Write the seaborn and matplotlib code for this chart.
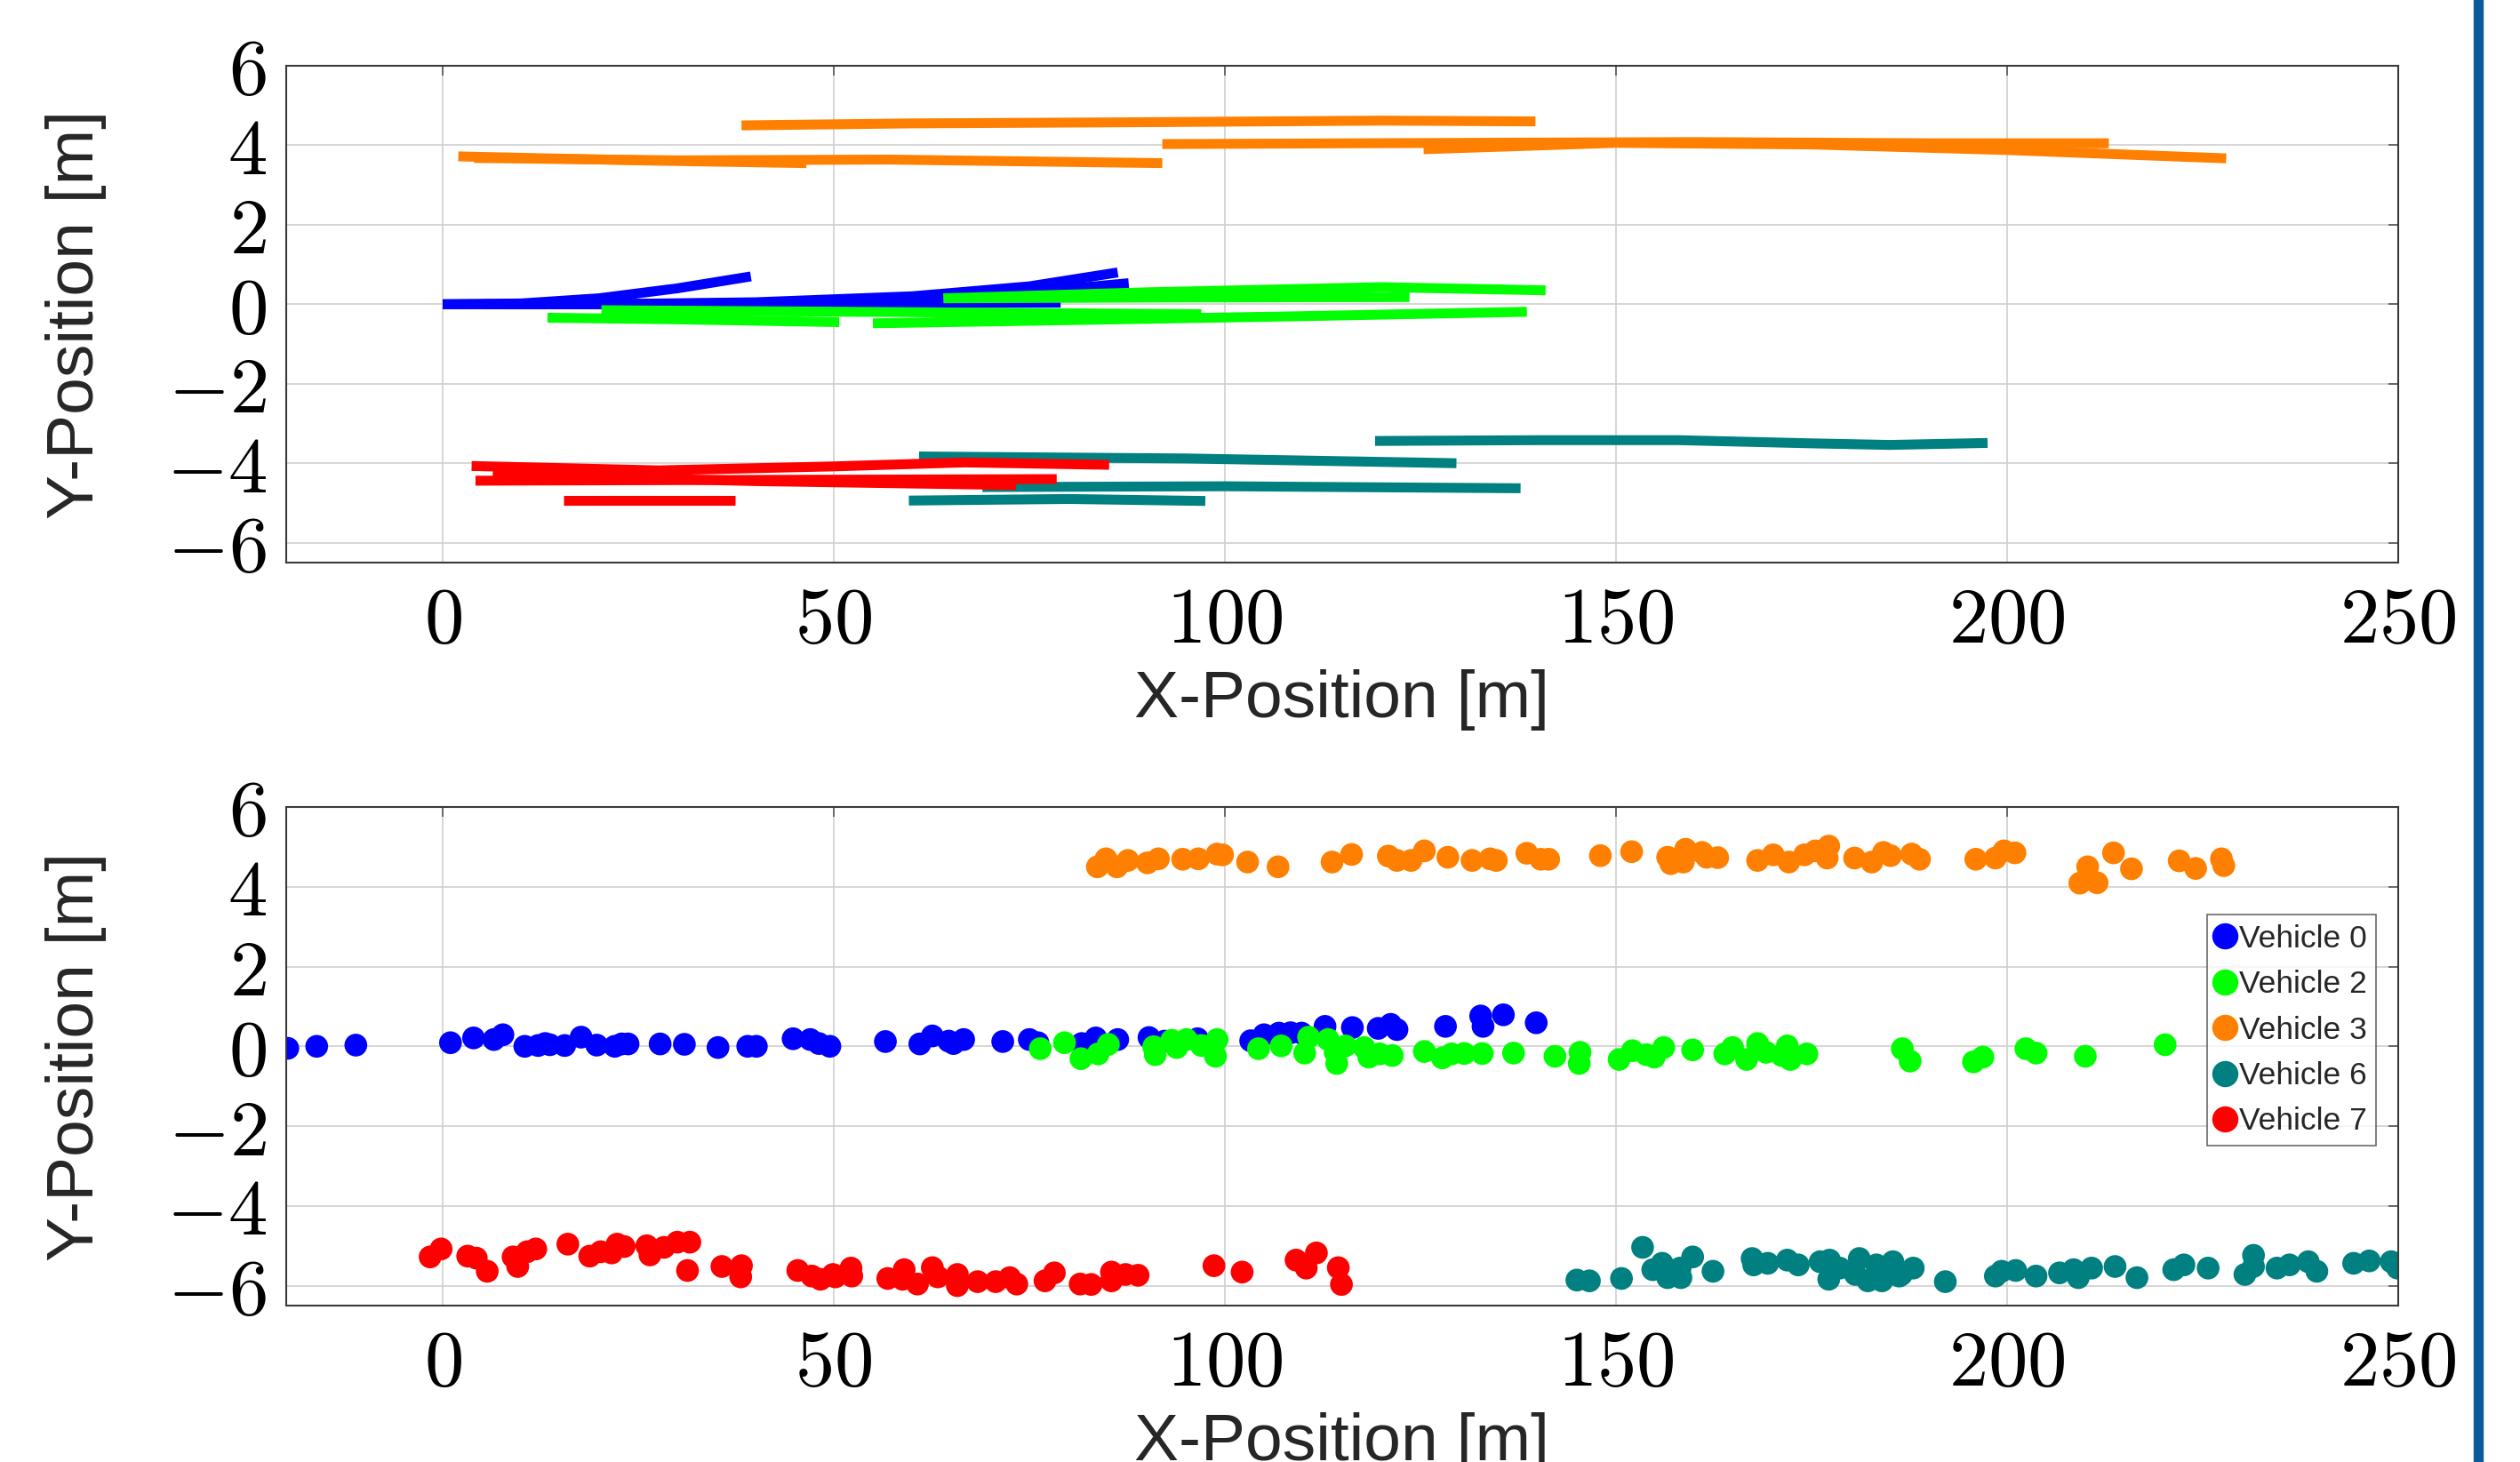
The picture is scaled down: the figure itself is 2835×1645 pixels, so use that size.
import pandas as pd
import numpy as np
import matplotlib
matplotlib.use("Agg")
import matplotlib.pyplot as plt
from matplotlib.ticker import FuncFormatter
from matplotlib.patches import Rectangle
import seaborn as sns

vehicles = ["Vehicle 0", "Vehicle 2", "Vehicle 3", "Vehicle 6", "Vehicle 7"]
colors = ["#0000FF", "#00FF00", "#FF8000", "#008080", "#FF0000"]

# top panel: tracked trajectories, one list per track
v0_track_x = [[0, 10, 20, 30, 39.4], [0, 20, 40, 60, 75, 86.3], [20, 40, 60, 75, 87.7], [5, 30, 55, 79]]
v0_track_y = [[0, 0.02, 0.15, 0.4, 0.7], [0, 0.0, 0.05, 0.2, 0.45, 0.8], [0, 0.03, 0.12, 0.3, 0.53], [0.0, 0.0, 0.02, 0.04]]
v2_track_x = [[13.4, 30, 50.7], [20.3, 60, 97], [55, 80, 110, 138.6], [64.4, 95, 123.6], [64, 90, 120, 141]]
v2_track_y = [[-0.34, -0.38, -0.45], [-0.15, -0.2, -0.25], [-0.48, -0.4, -0.3, -0.19], [0.15, 0.17, 0.18], [0.15, 0.3, 0.43, 0.35]]
v3_track_x = [[38.2, 60, 90, 120, 139.7], [2, 25, 46.5], [4, 30, 57, 92], [92, 130, 160, 190, 213], [125.4, 150, 175, 200, 228]]
v3_track_y = [[4.5, 4.55, 4.58, 4.62, 4.6], [3.72, 3.62, 3.55], [3.68, 3.62, 3.64, 3.55], [4.03, 4.06, 4.08, 4.05, 4.05], [3.9, 4.06, 4.02, 3.88, 3.67]]
v6_track_x = [[60.9, 95, 129.6], [119.2, 140, 158, 175, 185, 197.5], [69, 100, 137.8], [59.6, 80, 97.5]]
v6_track_y = [[-3.83, -3.88, -4.0], [-3.44, -3.42, -3.42, -3.5, -3.54, -3.49], [-4.6, -4.58, -4.63], [-4.94, -4.9, -4.95]]
v7_track_x = [[3.7, 27.6, 50, 66.7, 85.2], [4.2, 40, 78.5], [6.4, 40, 73.3], [15.5, 37.4]]
v7_track_y = [[-4.07, -4.18, -4.08, -3.98, -4.04], [-4.44, -4.42, -4.4], [-4.29, -4.45, -4.55], [-4.94, -4.94]]

# bottom panel: raw detections
v0_x = [-19.8, -16.1, -11.1, 1.0, 3.95, 6.55, 7.7, 10.5, 12.2, 13.1, 13.7, 15.6, 17.7, 19.7, 22.0, 22.9, 23.7,
        27.8, 30.9, 35.2, 39.0, 40.1, 44.8, 47.0, 48.1, 49.5, 56.6, 61.0, 62.6, 64.7, 65.3, 66.6, 71.6, 75.0,
        76.1, 81.7, 83.5, 86.3, 90.3, 92.3, 96.5, 103.3, 105.0, 106.9, 108.4, 109.8, 112.8, 116.3, 119.6,
        121.2, 122.0, 128.2, 132.7, 133.0, 135.6, 139.8]
v0_y = [-0.05, 0.0, 0.03, 0.09, 0.21, 0.17, 0.29, 0.0, 0.02, 0.07, 0.04, 0.02, 0.23, 0.03, 0.0, 0.06, 0.06,
        0.06, 0.05, -0.03, 0.0, 0.0, 0.19, 0.17, 0.07, 0.0, 0.12, 0.06, 0.26, 0.13, 0.07, 0.17, 0.12, 0.17,
        0.09, 0.07, 0.21, 0.17, 0.22, 0.13, 0.19, 0.14, 0.29, 0.33, 0.34, 0.33, 0.5, 0.47, 0.45,
        0.55, 0.42, 0.5, 0.76, 0.5, 0.79, 0.59]
v2_x = [76.4, 79.5, 81.6, 83.8, 85.1, 90.9, 91.1, 93.2, 93.85, 95.1, 97.0, 99.0, 98.8, 104.3, 107.2, 110.2,
        110.7, 113.2, 114.3, 114.1, 115.4, 117.8, 118.4, 119.8, 121.4, 125.5, 127.8, 129.0, 130.6, 132.9,
        136.9, 142.2, 145.4, 145.3, 150.4, 152.1, 153.9, 154.9, 156.1, 159.8, 163.9, 164.9, 166.7, 168.1,
        169.2, 171.2, 171.9, 172.3, 174.4, 186.6, 187.6, 195.7, 196.9, 202.4, 203.7, 210.0, 220.2]
v2_y = [-0.06, 0.09, -0.31, -0.19, 0.05, -0.01, -0.21, 0.15, -0.03, 0.17, 0.02, 0.17, -0.25, -0.06, 0.01, -0.17,
        0.23, 0.17, -0.43, -0.15, 0.01, -0.03, -0.27, -0.19, -0.23, -0.13, -0.29, -0.19, -0.18, -0.18,
        -0.17, -0.25, -0.15, -0.43, -0.33, -0.11, -0.21, -0.27, -0.03, -0.09, -0.19, -0.03, -0.33, 0.07,
        -0.15, -0.23, 0.01, -0.33, -0.19, -0.06, -0.37, -0.39, -0.27, -0.06, -0.17, -0.25, 0.04]
v3_x = [83.7, 84.8, 86.2, 87.6, 90.1, 91.5, 94.6, 96.6, 99.0, 99.7, 102.9, 106.8, 113.7, 116.2, 120.9, 122.0,
        123.8, 125.5, 128.5, 131.6, 133.9, 134.7, 138.6, 140.4, 141.4, 148.0, 152.0, 156.6, 157.0, 158.9,
        158.6, 161.0, 161.6, 163.0, 168.1, 170.1, 172.1, 174.1, 175.5, 177.0, 177.2, 180.5, 182.7, 184.2,
        185.1, 187.8, 188.8, 196.0, 198.5, 199.6, 201.0, 209.3, 210.3, 211.5, 213.6, 215.9, 222.0, 224.1,
        227.4, 227.7]
v3_y = [4.5, 4.7, 4.5, 4.66, 4.6, 4.7, 4.69, 4.7, 4.82, 4.8, 4.62, 4.5, 4.62, 4.81, 4.77, 4.66,
        4.66, 4.9, 4.74, 4.66, 4.7, 4.66, 4.84, 4.69, 4.69, 4.78, 4.88, 4.74, 4.58, 4.94,
        4.62, 4.86, 4.74, 4.73, 4.66, 4.8, 4.62, 4.8, 4.9, 4.72, 5.02, 4.72, 4.62, 4.86,
        4.78, 4.82, 4.69, 4.69, 4.72, 4.9, 4.85, 4.09, 4.5, 4.1, 4.85, 4.45, 4.65, 4.46,
        4.7, 4.53]
v6_x = [145.0, 146.6, 150.7, 153.4, 154.7, 155.9, 156.6, 158.2, 158.3, 159.8, 162.4, 167.4, 167.6, 169.4,
        171.9, 173.3, 176.1, 177.3, 177.2, 178.6, 180.6, 181.1, 182.2, 183.3, 184.0, 185.4, 186.2, 186.5,
        188.0, 192.1, 198.5, 199.3, 201.1, 203.7, 206.7, 208.5, 209.1, 210.8, 213.8, 216.6, 221.3, 222.6,
        225.7, 230.4, 231.5, 231.5, 234.5, 236.1, 238.5, 239.6, 244.3, 246.3, 249.1, 249.9]
v6_y = [-5.86, -5.88, -5.82, -5.04, -5.6, -5.44, -5.8, -5.56, -5.8, -5.28, -5.64, -5.32, -5.48, -5.44,
        -5.36, -5.48, -5.4, -5.36, -5.84, -5.56, -5.72, -5.32, -5.88, -5.48, -5.88, -5.4, -5.76, -5.72,
        -5.56, -5.9, -5.76, -5.64, -5.62, -5.76, -5.68, -5.6, -5.8, -5.56, -5.52, -5.8, -5.6, -5.48,
        -5.56, -5.72, -5.24, -5.52, -5.56, -5.48, -5.4, -5.64, -5.44, -5.38, -5.4, -5.56]
v7_x = [-1.6, -0.2, 3.2, 4.3, 5.7, 9.0, 9.6, 10.8, 11.9, 16.0, 18.8, 20.2, 21.6, 22.3, 23.2, 26.1, 26.5,
        28.3, 30.0, 31.6, 31.3, 35.7, 38.2, 38.1, 45.4, 47.2, 48.3, 49.9, 50.2, 52.2, 52.3, 56.9, 59.0,
        58.8, 60.7, 62.6, 63.3, 65.8, 65.8, 68.4, 70.7, 72.5, 73.4, 77.0, 78.2, 81.5, 82.9, 85.5, 85.5,
        87.3, 88.9, 98.6, 102.2, 109.1, 110.4, 111.7, 114.5, 114.9]
v7_y = [-5.28, -5.08, -5.26, -5.31, -5.64, -5.28, -5.52, -5.15, -5.08, -4.96, -5.26, -5.15, -5.18, -4.96,
        -5.02, -5.0, -5.23, -5.04, -4.91, -4.91, -5.62, -5.52, -5.5, -5.78, -5.62, -5.76, -5.84, -5.72,
        -5.78, -5.56, -5.76, -5.82, -5.6, -5.84, -5.96, -5.55, -5.78, -5.72, -6.0, -5.9, -5.9, -5.8,
        -5.96, -5.88, -5.68, -5.96, -5.97, -5.66, -5.88, -5.72, -5.74, -5.5, -5.66, -5.36, -5.56, -5.18,
        -5.55, -5.97]

x_ticks = [0, 50, 100, 150, 200, 250]
y_ticks = [-6, -4, -2, 0, 2, 4, 6]

# long-form tables for seaborn
track_sets = [(v0_track_x, v0_track_y), (v2_track_x, v2_track_y), (v3_track_x, v3_track_y),
              (v6_track_x, v6_track_y), (v7_track_x, v7_track_y)]
rows = []
for name, (txs, tys) in zip(vehicles, track_sets):
    for k, (tx, ty) in enumerate(zip(txs, tys)):
        for xv, yv in zip(tx, ty):
            rows.append({"vehicle": name, "track": f"{name}-{k}", "x": xv, "y": yv})
df_tracks = pd.DataFrame(rows)

point_sets = [(v0_x, v0_y), (v2_x, v2_y), (v3_x, v3_y), (v6_x, v6_y), (v7_x, v7_y)]
df_pts = pd.concat([pd.DataFrame({"vehicle": name, "x": px, "y": py})
                    for name, (px, py) in zip(vehicles, point_sets)], ignore_index=True)

palette = dict(zip(vehicles, colors))

sns.set_style("whitegrid")
plt.rcParams["mathtext.fontset"] = "cm"
plt.rcParams["font.family"] = ["Liberation Sans", "DejaVu Sans"]

W, H = 2835, 1645
fig = plt.figure(figsize=(W / 100, H / 100), dpi=100)
ax1 = fig.add_axes([322 / W, 1 - 633 / H, 2376 / W, 559 / H])
ax2 = fig.add_axes([322 / W, 1 - 1469 / H, 2376 / W, 561 / H])

sns.lineplot(data=df_tracks, x="x", y="y", hue="vehicle", units="track", estimator=None, sort=False,
             palette=palette, lw=8, solid_capstyle="butt", legend=False, ax=ax1)
sns.scatterplot(data=df_pts, x="x", y="y", hue="vehicle", palette=palette, s=340, linewidth=0, ax=ax2)

fmt = FuncFormatter(lambda v, p: rf"${v:g}$")
for ax in (ax1, ax2):
    ax.set_xlim(-20, 250)
    ax.set_ylim(-6.5, 6)
    ax.set_xticks(x_ticks)
    ax.set_yticks(y_ticks)
    ax.xaxis.set_major_formatter(fmt)
    ax.yaxis.set_major_formatter(fmt)
    ax.grid(True, color="#cfcfcf", linewidth=1.2)
    ax.set_facecolor("white")
    for sp in ax.spines.values():
        sp.set_color("#3a3a3a")
        sp.set_linewidth(1.5)
    ax.tick_params(direction="in", length=8, width=1.2, color="#555555", top=True, right=True,
                   labelsize=64, labelcolor="black")
    ax.tick_params(axis="x", pad=18)
    ax.tick_params(axis="y", pad=16)
    ax.set_xlabel("X-Position [m]", fontsize=54, labelpad=8)
    ax.set_ylabel("Y-Position [m]", fontsize=54, labelpad=48)

handles, labels = ax2.get_legend_handles_labels()
leg = ax2.legend(handles, labels, loc="upper right", bbox_to_anchor=(0.9895, 0.784),
                 prop={"family": ["Liberation Sans", "DejaVu Sans"], "size": 25.5},
                 frameon=True, fancybox=False, handlelength=0.55, handletextpad=0.15,
                 labelspacing=0.52, borderpad=0.3, borderaxespad=0, markerscale=1.15)
leg.get_frame().set_edgecolor("#444444")
leg.get_frame().set_linewidth(1.2)

# slide border on the right
fig.add_artist(Rectangle((2783 / W, 0), 10 / W, 1, transform=fig.transFigure,
                         color="#0b5a9c", zorder=5))

fig.savefig("out.png", dpi=100, facecolor="white")
